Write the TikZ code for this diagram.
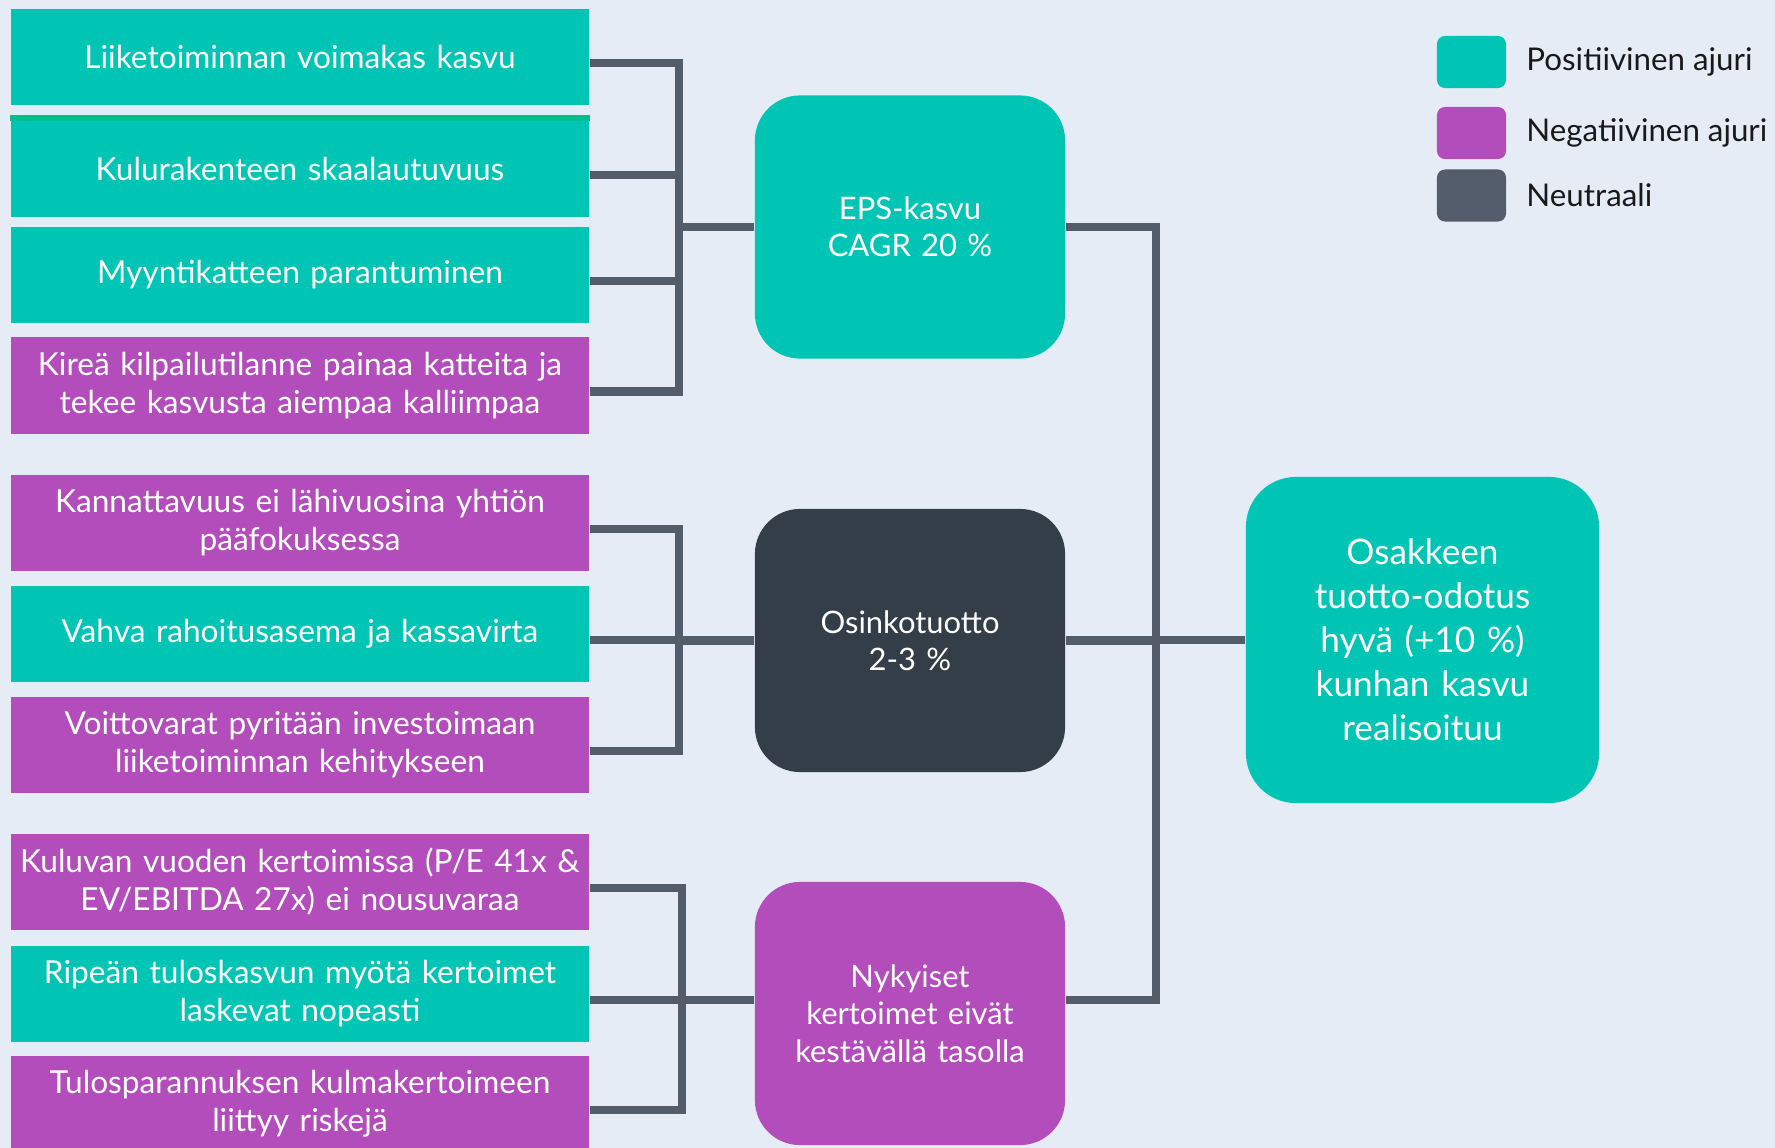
\documentclass[tikz,border=0pt]{standalone}
\usepackage{fontspec}
\setmainfont{Lato}
\usetikzlibrary{positioning}

\definecolor{posgreen}{HTML}{00C5B5}
\definecolor{stripegreen}{HTML}{00BF8C}
\definecolor{negpurple}{HTML}{B24DBB}
\definecolor{hubdark}{HTML}{333E48}
\definecolor{neutgray}{HTML}{535D6B}
\definecolor{linkgray}{HTML}{535C69}
\definecolor{bgblue}{HTML}{E5ECF6}

\tikzset{
  driver/.style={rectangle, minimum width=5.78cm, minimum height=0.96cm, inner sep=0pt,
    text width=5.7cm, align=center, text=white, font=\fontsize{9}{10.8}\selectfont},
  posdrv/.style={driver, fill=posgreen},
  negdrv/.style={driver, fill=negpurple},
  hub/.style={rectangle, rounded corners=0.45cm, minimum width=3.1cm, minimum height=2.63cm,
    inner sep=0pt, text width=2.9cm, align=center, text=white, font=\fontsize{8.8}{10.6}\selectfont},
  goalbox/.style={rectangle, rounded corners=0.5cm, minimum width=3.53cm, minimum height=3.26cm,
    inner sep=0pt, text width=3.3cm, align=center, text=white, font=\fontsize{10}{12.5}\selectfont},
  link/.style={draw=linkgray, line width=2.3pt},
  swatch/.style={rectangle, rounded corners=0.08cm, minimum width=0.69cm, minimum height=0.52cm, inner sep=0pt},
  legtext/.style={inner sep=0pt, text=black!90, font=\fontsize{8.9}{10}\selectfont}
}

\begin{document}
\begin{tikzpicture}[x=0.01cm, y=-0.01cm]
\fill[bgblue] (0,0) rectangle (1775,1148);
\useasboundingbox (0,0) rectangle (1775,1148);

% growth drivers
\node[posdrv] (b1) at (300,57)    {Liiketoiminnan voimakas kasvu};
\node[posdrv] (b2) at (300,169)   {Kulurakenteen skaalautuvuus};
\fill[stripegreen] ([yshift=-0.01cm]b2.north west) rectangle ([yshift=0.05cm]b2.north east);
\node[posdrv] (b3) at (300,275)   {Myyntikatteen parantuminen};
\node[negdrv] (b4) at (300,385.5) {Kireä kilpailutilanne painaa katteita ja\\ tekee kasvusta aiempaa kalliimpaa};

% dividend drivers
\node[negdrv] (c1) at (300,523) {Kannattavuus ei lähivuosina yhtiön\\ pääfokuksessa};
\node[posdrv] (c2) at (300,634) {Vahva rahoitusasema ja kassavirta};
\node[negdrv] (c3) at (300,745) {Voittovarat pyritään investoimaan\\ liiketoiminnan kehitykseen};

% valuation drivers
\node[negdrv] (d1) at (300,882)  {Kuluvan vuoden kertoimissa (P/E 41x \&\\ EV/EBITDA 27x) ei nousuvaraa};
\node[posdrv] (d2) at (300,994)  {Ripeän tuloskasvun myötä kertoimet\\ laskevat nopeasti};
\node[negdrv] (d3) at (300,1104) {Tulosparannuksen kulmakertoimeen\\ liittyy riskejä};

% hubs and result
\node[hub,fill=posgreen]  (eps)  at (910,227)    {EPS-kasvu\\ CAGR 20 \%};
\node[hub,fill=hubdark]   (div)  at (910,640.5)  {Osinkotuotto\\ 2-3 \%};
\node[hub,fill=negpurple] (mult) at (910,1013.5) {Nykyiset\\ kertoimet eivät\\ kestävällä tasolla};
\node[goalbox,fill=posgreen] (goal) at (1422.5,640) {Osakkeen\\ tuotto-odotus\\ hyvä (+10 \%)\\ kunhan kasvu\\ realisoituu};

% junction points
\coordinate (jb) at (679,227);
\coordinate (jc) at (679,640.5);
\coordinate (jd) at (682,1000);
\coordinate (jr) at (1156,640);

\foreach \b in {b1,b2,b3,b4} \draw[link] ([yshift=-0.06cm]\b.east) -| (jb);
\foreach \b in {c1,c2,c3} \draw[link] ([yshift=-0.06cm]\b.east) -| (jc);
\foreach \b in {d1,d2,d3} \draw[link] ([yshift=-0.06cm]\b.east) -| (jd);
\draw[link] (jb) -- (eps.west);
\draw[link] (jc) -- (div.west);
\draw[link] (jd) -- (mult.west |- jd);
\foreach \h in {eps,div} \draw[link] (\h.east) -| (jr);
\draw[link] (mult.east |- jd) -| (jr);
\draw[link] (jr) -- (goal.west);

% legend
\node[swatch,fill=posgreen]  (lpos) at (1471.5,62)  {};
\node[swatch,fill=negpurple] (lneg) at (1471.5,133) {};
\node[swatch,fill=neutgray]  (lneu) at (1471.5,195.5) {};
\node[legtext,right=0.19cm of lpos] (tpos) {Positiivinen ajuri};
\node[legtext,right=0.19cm of lneg] (tneg) {Negatiivinen ajuri};
\node[legtext,right=0.19cm of lneu] (tneu) {Neutraali};
\end{tikzpicture}
\end{document}
